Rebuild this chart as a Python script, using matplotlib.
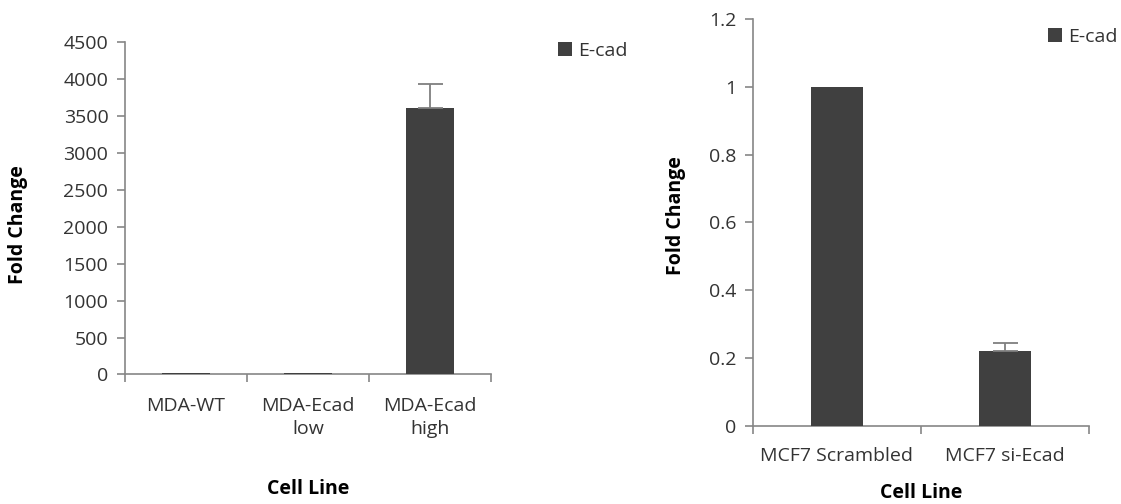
import matplotlib
matplotlib.use("Agg")
import matplotlib.pyplot as plt
from matplotlib.patches import Patch

plt.rcParams['font.family'] = ['Open Sans', 'DejaVu Sans']

# Left panel data
left_cats = ["MDA-WT", "MDA-Ecad\nlow", "MDA-Ecad\nhigh"]
left_vals = [15, 16, 3607]
left_errs = [0, 0, 320]
left_yticks = [0, 500, 1000, 1500, 2000, 2500, 3000, 3500, 4000, 4500]

# Right panel data
right_cats = ["MCF7 Scrambled", "MCF7 si-Ecad"]
right_vals = [1.0, 0.22]
right_errs = [0, 0.023]
right_yticks = [0, 0.2, 0.4, 0.6, 0.8, 1.0, 1.2]
right_ylabels = ["0", "0.2", "0.4", "0.6", "0.8", "1", "1.2"]

series_name = "E-cad"
bar_color = "#404040"
axis_color = "#868686"
text_color = "#333333"
FS = 14

fig = plt.figure(figsize=(11.21, 5.04), dpi=100)
axL = fig.add_axes([0.1115, 0.257, 0.3265, 0.66])
axR = fig.add_axes([0.6717, 0.1554, 0.2998, 0.8063])


def style(ax, cats, vals, errs, width, yticks, ylabels, ymax, label_pad):
    x = list(range(len(cats)))
    ax.bar(x, vals, width=width, color=bar_color, zorder=3)
    ex = [xi for xi, e in zip(x, errs) if e > 0]
    ey = [v for v, e in zip(vals, errs) if e > 0]
    ee = [e for e in errs if e > 0]
    ax.errorbar(ex, ey, yerr=[[0] * len(ee), ee], fmt='none', ecolor='#7f7f7f',
                elinewidth=1.3, capsize=9, capthick=1.3, zorder=4)
    ax.set_xlim(-0.5, len(cats) - 0.5)
    ax.set_ylim(0, ymax)
    for s in ['top', 'right']:
        ax.spines[s].set_visible(False)
    for s in ['left', 'bottom']:
        ax.spines[s].set_color(axis_color)
        ax.spines[s].set_linewidth(1.2)
    ax.set_yticks(yticks)
    ax.set_yticklabels(ylabels, fontsize=FS, color=text_color)
    ax.tick_params(axis='y', direction='out', length=6, color=axis_color, width=1.2, pad=6)
    ax.set_xticks([i - 0.5 for i in range(len(cats) + 1)])
    ax.set_xticklabels([])
    ax.tick_params(axis='x', which='major', direction='out', length=6, color=axis_color, width=1.2)
    ax.set_xticks(x, minor=True)
    ax.set_xticklabels(cats, minor=True, fontsize=FS, color=text_color,
                       linespacing=1.4)
    ax.tick_params(axis='x', which='minor', length=0, pad=label_pad)
    ax.set_ylabel("Fold Change", fontsize=FS, fontweight='bold', color='black')
    ax.set_xlabel("Cell Line", fontsize=FS, fontweight='bold', color='black')


style(axL, left_cats, left_vals, left_errs, 0.40, left_yticks,
      [str(v) for v in left_yticks], 4500, 16)
style(axR, right_cats, right_vals, right_errs, 0.31, right_yticks,
      right_ylabels, 1.2, 15)

axL.yaxis.set_label_coords(-0.265, 0.452)
axL.xaxis.set_label_coords(0.5, -0.315)
axR.yaxis.set_label_coords(-0.2, 0.518)
axR.xaxis.set_label_coords(0.5, -0.14)

handle = [Patch(facecolor=bar_color, label=series_name)]
fig.legend(handles=handle, loc='center left', bbox_to_anchor=(0.4978, 0.899),
           frameon=False, fontsize=FS, handlelength=0.72, handleheight=0.72,
           handletextpad=0.3, labelcolor=text_color, borderaxespad=0, borderpad=0)
fig.legend(handles=handle, loc='center left', bbox_to_anchor=(0.935, 0.927),
           frameon=False, fontsize=FS, handlelength=0.72, handleheight=0.72,
           handletextpad=0.3, labelcolor=text_color, borderaxespad=0, borderpad=0)

fig.savefig("out.png", dpi=100, facecolor='white')
